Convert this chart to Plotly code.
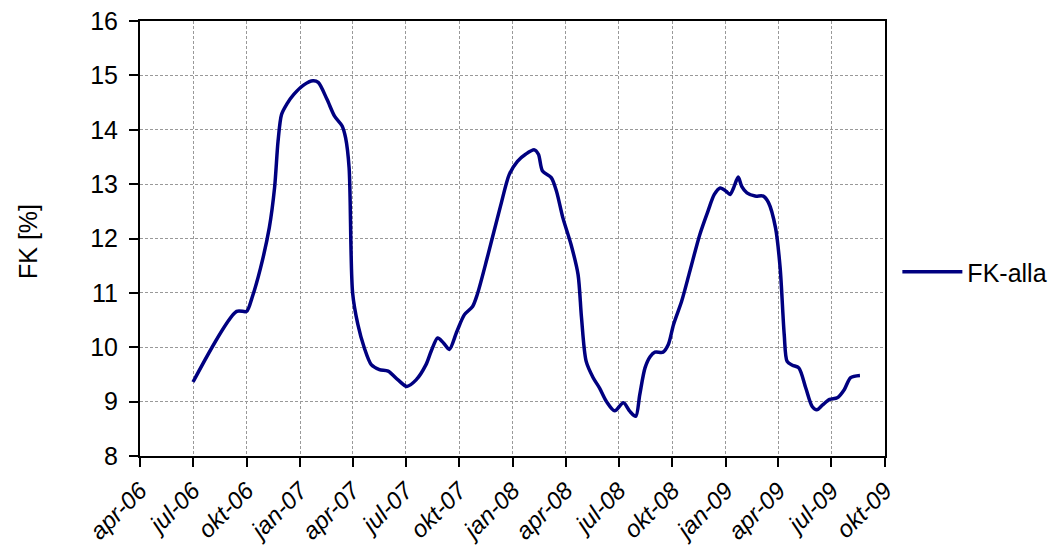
import plotly.graph_objects as go

dates = [
    "2006-07-01", "2006-09-14", "2006-10-01", "2006-10-10", "2006-10-25", "2006-11-09",
    "2006-11-18", "2006-11-24", "2006-11-30", "2006-12-09", "2006-12-21", "2007-01-08",
    "2007-01-23", "2007-02-01", "2007-02-16", "2007-03-01", "2007-03-14", "2007-03-20",
    "2007-03-26", "2007-04-01", "2007-04-10", "2007-04-21", "2007-05-03", "2007-05-17",
    "2007-06-01", "2007-06-18", "2007-07-03", "2007-07-19", "2007-08-05", "2007-08-14",
    "2007-08-25", "2007-09-04", "2007-09-14", "2007-09-27", "2007-10-10", "2007-10-24",
    "2007-11-01", "2007-11-18", "2007-12-11", "2007-12-26", "2008-01-09", "2008-01-23",
    "2008-02-07", "2008-02-14", "2008-02-21", "2008-03-07", "2008-03-16", "2008-03-27",
    "2008-04-10", "2008-04-22", "2008-04-28", "2008-05-06", "2008-05-18", "2008-05-29",
    "2008-06-10", "2008-06-24", "2008-07-09", "2008-07-20", "2008-07-30", "2008-08-06",
    "2008-08-15", "2008-08-24", "2008-09-01", "2008-09-15", "2008-09-24", "2008-10-03",
    "2008-10-17", "2008-10-31", "2008-11-17", "2008-12-01", "2008-12-12", "2008-12-22",
    "2009-01-01", "2009-01-08", "2009-01-14", "2009-01-22", "2009-01-28", "2009-02-06",
    "2009-02-20", "2009-03-06", "2009-03-15", "2009-03-27", "2009-04-04", "2009-04-11",
    "2009-04-16", "2009-04-25", "2009-05-06", "2009-05-18", "2009-05-29", "2009-06-06",
    "2009-06-16", "2009-06-28", "2009-07-11", "2009-07-23", "2009-08-03", "2009-08-19",
]
fk_alla = [
    9.36, 10.66, 10.66, 10.90, 11.46, 12.20,
    12.93, 13.79, 14.28, 14.47, 14.65, 14.83,
    14.90, 14.87, 14.56, 14.25, 14.07, 13.85,
    13.30, 11.00, 10.42, 9.99, 9.68, 9.59,
    9.56, 9.40, 9.28, 9.40, 9.68, 9.93,
    10.17, 10.08, 9.96, 10.29, 10.60, 10.75,
    10.97, 11.64, 12.60, 13.18, 13.42, 13.55,
    13.63, 13.55, 13.24, 13.12, 12.87, 12.38,
    11.89, 11.34, 10.54, 9.74, 9.44, 9.25,
    9.00, 8.83, 8.98, 8.82, 8.73, 9.13,
    9.62, 9.83, 9.91, 9.91, 10.05, 10.42,
    10.85, 11.40, 12.07, 12.50, 12.81, 12.93,
    12.87, 12.81, 12.93, 13.13, 12.96, 12.84,
    12.78, 12.78, 12.66, 12.20, 11.46, 10.23,
    9.74, 9.67, 9.62, 9.25, 8.91, 8.85,
    8.94, 9.04, 9.07, 9.22, 9.44, 9.48,
]

tick_dates = [
    "2006-04-01", "2006-07-01", "2006-10-01", "2007-01-01", "2007-04-01",
    "2007-07-01", "2007-10-01", "2008-01-01", "2008-04-01", "2008-07-01",
    "2008-10-01", "2009-01-01", "2009-04-01", "2009-07-01", "2009-10-01",
]
tick_labels = [
    "apr-06", "jul-06", "okt-06", "jan-07", "apr-07", "jul-07", "okt-07",
    "jan-08", "apr-08", "jul-08", "okt-08", "jan-09", "apr-09", "jul-09", "okt-09",
]

FONT = "Liberation Sans, Arial, sans-serif"

fig = go.Figure()
fig.add_trace(go.Scatter(
    x=dates, y=fk_alla, mode="lines", name="FK-alla",
    line=dict(color="#000080", width=3.5, shape="spline", smoothing=0.8),
))

# page body has an 8px margin, so the figure is 8px smaller than the window
fig.update_layout(
    width=1055, height=539,
    margin=dict(l=132, r=178, t=13, b=91),
    paper_bgcolor="white", plot_bgcolor="white",
    font=dict(family=FONT, color="black"),
    showlegend=True,
    legend=dict(xref="container", yref="container", x=0.843, y=0.51,
                xanchor="left", yanchor="middle",
                font=dict(size=25, family=FONT), bgcolor="rgba(0,0,0,0)",
                itemwidth=60),
    annotations=[dict(
        text="FK [%]", textangle=-90, xref="paper", yref="paper",
        x=(20 - 132) / 745, y=0.492, xanchor="center", yanchor="middle",
        showarrow=False, font=dict(size=25, family=FONT),
    )],
)
fig.update_xaxes(
    type="date", range=["2006-04-01", "2009-10-01"],
    tickvals=tick_dates, ticktext=tick_labels, tickangle=-45,
    tickfont=dict(size=24, family=FONT, style="italic"),
    ticks="outside", ticklen=9, tickcolor="black", tickwidth=1.5,
    ticklabeloverflow="allow",
    showline=True, linecolor="black", linewidth=2, mirror=True,
    showgrid=True, gridcolor="#999999", griddash="3px,2px", gridwidth=1,
    zeroline=False, automargin=False,
)
fig.update_yaxes(
    range=[8, 16], dtick=1,
    tickfont=dict(size=25, family=FONT),
    ticks="outside", ticklen=9, tickcolor="black", tickwidth=1.5,
    ticklabelstandoff=6, ticklabeloverflow="allow",
    showline=True, linecolor="black", linewidth=2, mirror=True,
    showgrid=True, gridcolor="#999999", griddash="3px,2px", gridwidth=1,
    zeroline=False, automargin=False,
)

fig.write_html("out.html")
